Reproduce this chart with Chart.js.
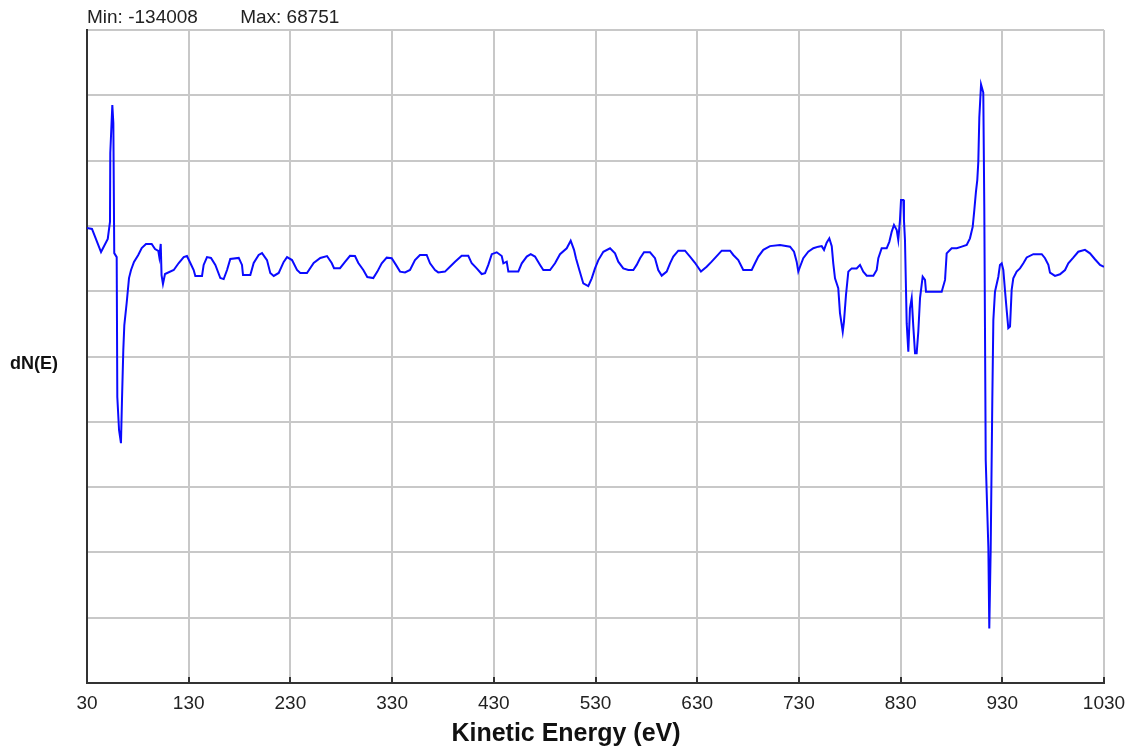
<!DOCTYPE html>
<html lang="en">
<head>
    <meta charset="UTF-8">
    <title>dN(E) Spectrum</title>
    <script src="https://cdn.jsdelivr.net/npm/chart.js"></script>
    <style>
        body { margin: 0; background: #fff; }
        #wrap { position: relative; width: 1130px; height: 748px; }
        .lbl { position: absolute; color: #111; font-family: "Liberation Sans", Arial, sans-serif; font-weight: bold; white-space: nowrap; }
        #ylabel { left: 10px; top: 354px; font-size: 18px; line-height: 18px; }
        #xlabel { left: 0; width: 1132px; text-align: center; top: 720px; font-size: 25px; line-height: 25px; }
    </style>
</head>
<body>
<div id="wrap">
    <canvas id="spectrum" width="1130" height="748"></canvas>
    <div class="lbl" id="ylabel">dN(E)</div>
    <div class="lbl" id="xlabel">Kinetic Energy (eV)</div>
</div>

<script>
    // Kinetic energy (eV)
    const energy = [
        30.0, 34.9, 43.8, 50.4, 51.3, 52.6, 52.9, 54.9, 55.9, 56.8,
        59.2, 59.8, 61.5, 63.4, 64.4, 65.7, 66.7, 69.0, 71.3, 73.3,
        76.2, 80.4, 83.8, 88.0, 93.6, 96.9, 100.1, 101.1, 102.5, 103.3,
        104.7, 106.7, 115.3, 120.2, 125.1, 128.3, 131.6, 134.9, 136.5, 143.1,
        144.7, 148.0, 151.9, 156.2, 161.1, 164.4, 167.7, 170.9, 179.2, 182.4,
        183.4, 190.6, 193.9, 198.8, 202.1, 207.0, 210.2, 213.6, 218.5, 223.4,
        226.7, 231.6, 236.5, 239.7, 246.3, 252.9, 259.4, 266.0, 270.6, 272.9,
        278.8, 283.7, 288.6, 293.5, 296.8, 301.7, 305.6, 311.5, 315.5, 319.8,
        324.7, 329.6, 333.8, 337.8, 342.7, 347.6, 352.5, 357.4, 364.0, 367.3,
        372.2, 375.4, 382.0, 386.9, 391.9, 398.4, 404.9, 408.3, 413.2, 418.1,
        421.4, 424.6, 428.0, 432.9, 437.8, 439.4, 442.7, 444.3, 454.1, 457.5,
        462.4, 466.3, 470.5, 475.5, 478.7, 485.3, 490.2, 495.1, 501.7, 505.6,
        508.9, 510.8, 514.1, 518.0, 522.9, 526.3, 529.5, 532.8, 537.7, 544.3,
        549.2, 552.4, 557.3, 562.3, 567.2, 570.5, 573.8, 577.7, 583.6, 588.5,
        591.7, 595.1, 600.0, 603.3, 606.5, 611.4, 618.0, 622.9, 627.8, 633.7,
        639.3, 644.2, 649.2, 654.1, 662.3, 665.5, 670.4, 675.3, 683.6, 686.8,
        690.1, 695.0, 701.6, 711.4, 721.3, 725.2, 727.8, 729.4, 731.1, 734.3,
        739.2, 744.2, 749.1, 752.4, 754.7, 757.3, 759.9, 762.3, 763.8, 765.5,
        768.7, 770.4, 773.1, 774.3, 776.3, 778.6, 781.9, 786.8, 790.1, 793.3,
        796.7, 803.2, 806.5, 808.1, 811.4, 816.3, 818.9, 821.3, 823.5, 826.2,
        827.7, 829.4, 830.4, 832.7, 833.3, 834.3, 836.0, 837.6, 839.2, 840.9,
        842.5, 844.2, 845.8, 847.4, 849.1, 851.7, 854.0, 855.0, 870.4, 873.7,
        875.3, 880.2, 885.2, 890.1, 895.0, 898.2, 900.9, 902.5, 904.1, 905.4,
        906.4, 907.4, 909.1, 911.3, 912.3, 913.7, 916.3, 917.2, 918.6, 920.2,
        921.2, 922.8, 926.1, 927.7, 929.4, 931.0, 932.6, 934.3, 935.9, 937.6,
        939.2, 940.8, 944.1, 947.4, 950.7, 954.0, 960.5, 968.8, 972.0, 975.3,
        976.9, 981.8, 986.7, 991.7, 994.9, 999.8, 1004.7, 1011.3, 1016.2, 1021.1,
        1026.1, 1030.0
    ];

    // dN(E) counts at each energy above
    const dNE = [
        15300, 14900, 6300, 11200, 13800, 17500, 43200, 61100, 54400, 5900,
        4400, -47700, -60000, -64900, -48800, -30200, -20900, -12700, -3400, -400,
        2600, 5200, 7800, 9300, 9300, 7400, 6700, 4400, 9300, -2300,
        -5600, -1900, -400, 2200, 4400, 4800, 2200, -400, -2600, -2600,
        1500, 4400, 4100, 1500, -3400, -3800, -400, 3700, 4100, 1500,
        -2300, -2300, 2200, 5200, 5900, 3300, -1500, -2600, -1500, 2600,
        4400, 3300, -400, -1500, -1500, 2200, 4100, 4800, 2200, 300,
        300, 2600, 4900, 4800, 2200, -400, -3000, -3400, -1000, 2100,
        4200, 4000, 1500, -1000, -1300, -400, 3300, 5200, 5200, 2100,
        -400, -1300, -1000, 800, 2700, 4900, 4900, 2100, 200, -1900,
        -1600, 1500, 5500, 6200, 4800, 2100, 2700, -1000, -1000, 2100,
        4600, 5500, 4600, 1500, -400, -400, 2100, 5500, 7700, 10500,
        7100, 4000, -400, -5400, -6400, -3500, 200, 3300, 6400, 7700,
        5800, 2700, 200, -400, -400, 1500, 4000, 6200, 6200, 4000,
        -400, -2500, -1000, 2100, 4600, 6800, 6800, 4600, 2300, -1000,
        800, 2700, 4800, 6800, 6800, 5200, 3300, -400, -400, 2100,
        4600, 7100, 8500, 8900, 8300, 6400, 2700, -1000, 800, 4000,
        6400, 7700, 8300, 8500, 7100, 9800, 11400, 8500, 2100, -3500,
        -7200, -16500, -23400, -19700, -9700, -1000, 200, 200, 1500, -1000,
        -2500, -2500, -400, 4000, 7700, 7700, 10100, 13900, 16400, 14500,
        10800, 18200, 25700, 25700, 18200, 10800, -20300, -30800, -14700, -10900,
        -21500, -31400, -31400, -23400, -10900, -2900, -4100, -8500, -8500, -4100,
        5800, 7700, 7700, 8300, 8900, 11400, 15700, 22000, 28800, 33100,
        39800, 56400, 68751, 65700, 22700, -71200, -104000, -134008, -104000, -48100,
        -19000, -8500, -2900, 1500, 2100, -400, -7800, -15300, -22100, -21500,
        -7800, -3500, -1000, 200, 2100, 4300, 5500, 5500, 4000, 1500,
        -1400, -2600, -2000, -400, 2100, 4200, 6400, 7100, 5800, 3600,
        1500, 800
    ];

    const xTicks = [30, 130, 230, 330, 430, 530, 630, 730, 830, 930, 1030];
    const minCount = -134008;
    const maxCount = 68751;

    // the plot leaves 10% of the range above the max and below the min
    const span = maxCount - minCount;
    const yLow = minCount - 0.1 * span;
    const yHigh = maxCount + 0.1 * span;

    const points = energy.map((e, i) => ({ x: e, y: dNE[i] }));
    const tickFont = { family: '"Liberation Sans", Arial, sans-serif', size: 19 };

    new Chart(document.getElementById('spectrum'), {
        type: 'line',
        data: {
            datasets: [{
                data: points,
                borderColor: '#0a0aff',
                borderWidth: 2,
                pointRadius: 0,
                tension: 0,
                fill: false
            }]
        },
        options: {
            responsive: false,
            animation: false,
            devicePixelRatio: 1,
            layout: { padding: { left: 87, right: 26, top: 0, bottom: 0 } },
            plugins: {
                legend: { display: false },
                tooltip: { enabled: false },
                title: {
                    display: true,
                    text: 'Min: ' + minCount + '        Max: ' + maxCount,
                    align: 'start',
                    color: '#222',
                    font: { family: '"Liberation Sans", Arial, sans-serif', size: 19, weight: 'normal' },
                    padding: { top: 6, bottom: 1.2 }
                }
            },
            scales: {
                x: {
                    type: 'linear',
                    min: xTicks[0],
                    max: xTicks[xTicks.length - 1],
                    afterFit: s => {
                        s.height = 65;
                        s.paddingLeft = 0;
                        s.paddingRight = 0;
                    },
                    afterBuildTicks: s => { s.ticks = xTicks.map(v => ({ value: v })); },
                    ticks: {
                        color: '#222',
                        font: tickFont,
                        padding: 15,
                        maxRotation: 0,
                        callback: v => String(v)
                    },
                    grid: {
                        color: '#c8c8c8',
                        lineWidth: 2,
                        tickLength: -6,
                        tickColor: '#333',
                        tickWidth: 2
                    },
                    border: { color: '#333', width: 2 }
                },
                y: {
                    min: yLow,
                    max: yHigh,
                    afterFit: s => { s.width = 0; },
                    ticks: { display: false, stepSize: span * 1.2 / 10 },
                    grid: { color: '#c8c8c8', lineWidth: 2, drawTicks: false },
                    border: { color: '#333', width: 2 }
                }
            }
        }
    });
</script>
</body>
</html>
